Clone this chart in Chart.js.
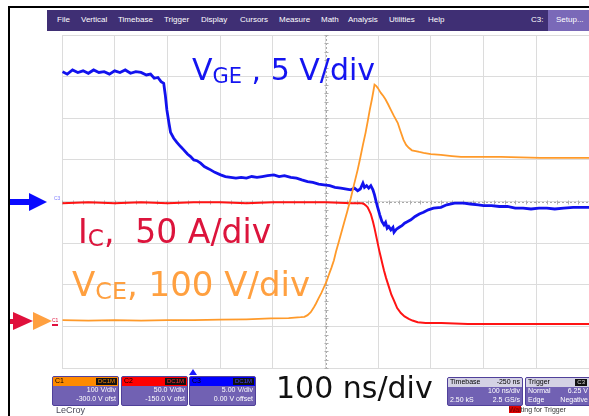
<!DOCTYPE html>
<html><head><meta charset="utf-8">
<script src="https://cdn.jsdelivr.net/npm/chart.js@4/dist/chart.umd.min.js"></script>
<style>
html,body{margin:0;padding:0;background:#fff;width:589px;height:416px;overflow:hidden;position:relative;font-family:"DejaVu Sans",sans-serif}
#c{position:absolute;left:0;top:0}
.abs{position:absolute;white-space:nowrap}
.lbl{font-size:30px;line-height:30px}
.lbl .sb{font-size:0.7em;position:relative;top:0.12em}
.menu{position:absolute;left:47px;top:10px;width:542px;height:21px;background:#3f2f74}
.mi{position:absolute;top:5px;font:8px "Liberation Sans",Arial,sans-serif;color:#fff}
.box{position:absolute;background:#7161b3;border:1px solid #50409a;border-radius:2px;overflow:hidden;font:7px/8px "Liberation Sans",Arial,sans-serif;color:#fff}
.hd{position:relative;height:9px;color:#000}
.hd .l{position:absolute;left:2px;top:0}
.hd .r{position:absolute;right:2px;top:0}
.ln{position:relative;height:9px}
.ln .l{position:absolute;left:2px}
.ln .r{position:absolute;right:2px}
.tag{position:absolute;right:1px;top:1px;height:7px;padding:0 2px;background:#111;font:6px/7px "Liberation Sans",Arial,sans-serif}
</style></head><body>
<canvas id="c" width="589" height="416"></canvas>

<!-- frame -->
<div class="abs" style="left:8px;top:6px;width:581px;height:2px;background:#000"></div>
<div class="abs" style="left:8px;top:6px;width:2px;height:410px;background:#000"></div>

<!-- menu bar -->
<div class="menu">
  <span class="mi" style="left:10px">File</span>
  <span class="mi" style="left:34px">Vertical</span>
  <span class="mi" style="left:71px">Timebase</span>
  <span class="mi" style="left:117px">Trigger</span>
  <span class="mi" style="left:154px">Display</span>
  <span class="mi" style="left:193px">Cursors</span>
  <span class="mi" style="left:232px">Measure</span>
  <span class="mi" style="left:274px">Math</span>
  <span class="mi" style="left:301px">Analysis</span>
  <span class="mi" style="left:342px">Utilities</span>
  <span class="mi" style="left:381px">Help</span>
  <span class="mi" style="left:484px">C3:</span>
  <div class="abs" style="left:501px;top:0;width:41px;height:21px;background:#7a69b8"></div>
  <span class="mi" style="left:509px">Setup...</span>
</div>

<!-- arrows -->
<svg class="abs" style="left:0;top:0" width="60" height="416">
  <rect x="10" y="199" width="21" height="6" fill="#0a0aff"/>
  <polygon points="29,193 47,202 29,211" fill="#0a0aff"/>
  <rect x="10" y="319" width="4" height="5" fill="#e0103c"/>
  <polygon points="13,312 33,321 13,330" fill="#e0103c"/>
  <polygon points="33,312 52,321 33,330" fill="#ffa040"/>
  <rect x="52" y="324" width="6" height="2" fill="#e0103c"/>
</svg>
<span class="abs" style="left:54px;top:195px;font:5px 'Liberation Sans',sans-serif;color:#8080ff">C3</span>
<span class="abs" style="left:52px;top:317px;font:5px 'Liberation Sans',sans-serif;color:#e0103c">C1</span>

<!-- trace labels -->
<div class="abs lbl" style="left:192px;top:55px;color:#1414f0">V<span class="sb">GE</span> , 5 V/div</div>
<div class="abs lbl" style="left:78px;top:215px;font-size:33px;line-height:33px;color:#dc143c">I<span class="sb">C</span>,&nbsp; 50 A/div</div>
<div class="abs lbl" style="left:72px;top:267px;font-size:34px;line-height:34px;color:#ffa040">V<span class="sb">CE</span>, 100 V/div</div>
<div class="abs lbl" style="left:276px;top:373px;color:#111">100 ns/div</div>

<!-- trigger marker -->
<svg class="abs" style="left:188px;top:369px" width="10" height="7"><polygon points="5,0 9,6 1,6" fill="#1a1aff"/></svg>

<!-- channel boxes -->
<div class="box" style="left:52px;top:376px;width:65px;height:28px">
  <div class="hd" style="background:#ff8a00"><span class="l">C1</span><span class="tag" style="color:#ff8a00">DC1M</span></div>
  <div class="ln"><span class="r">100 V/div</span></div>
  <div class="ln"><span class="r">-300.0 V ofst</span></div>
</div>
<div class="box" style="left:121px;top:376px;width:65px;height:28px">
  <div class="hd" style="background:#ff0000"><span class="l">C2</span><span class="tag" style="color:#ff3030">DC1M</span></div>
  <div class="ln"><span class="r">50.0 V/div</span></div>
  <div class="ln"><span class="r">-150.0 V ofst</span></div>
</div>
<div class="box" style="left:189px;top:376px;width:65px;height:28px">
  <div class="hd" style="background:#0000ff"><span class="l">C3</span><span class="tag" style="color:#4040ff">DC1M</span></div>
  <div class="ln"><span class="r">5.00 V/div</span></div>
  <div class="ln"><span class="r">0.00 V offset</span></div>
</div>
<span class="abs" style="left:56px;top:405px;font:9px 'Liberation Sans',Arial,sans-serif;color:#4a4a5a">LeCroy</span>

<div class="box" style="left:447px;top:377px;width:74px;height:27px">
  <div class="hd" style="background:#d4d2e4"><span class="l">Timebase</span><span class="r">-250 ns</span></div>
  <div class="ln"><span class="r">100 ns/div</span></div>
  <div class="ln"><span class="l">2.50 kS</span><span class="r">2.5 GS/s</span></div>
</div>
<div class="box" style="left:525px;top:377px;width:66px;height:27px">
  <div class="hd" style="background:#d4d2e4"><span class="l">Trigger</span><span class="tag" style="right:5px;color:#ddd">C3</span></div>
  <div class="ln"><span class="l">Normal</span><span class="r" style="right:4px">6.25 V</span></div>
  <div class="ln"><span class="l">Edge</span><span class="r" style="right:4px">Negative</span></div>
</div>
<span class="abs" style="left:509px;top:406px;font:7px 'Liberation Sans',Arial,sans-serif;color:#333"><span style="background:#e00000;color:#600">Wai</span>ting for Trigger</span>

<script>
// time axis in ns (100 ns/div), trigger at t = 0
const timeTicks = { min: -250, max: 750, step: 100 };
// C3: VGE in volts (5 V/div, 0 V offset)
const vgeTime = [-249,-240,-230,-220,-210,-200,-190,-180,-170,-160,-150,-140,-130,-120,-110,-100,-90,-82,-75,-68,-62,-57,-54,-51,-47,-44,-38,-32,-25,-19,-12,-6,0,6,13,20,26,32,40,51,60,70,80,90,100,110,120,130,140,152,162,172,184,195,205,216,226,237,247,258,268,279,290,298,305,311,316,321,324,328,332,336,340,343,346,349,353,357,361,364,367,370,374,378,380,385,390,395,400,406,412,420,428,436,445,455,469,480,495,512,525,540,550,565,580,595,610,625,640,655,670,685,702,720,735,751];
const vgeVolts = [15.6,15.3,15.8,15.5,15.7,15.4,15.8,15.5,15.6,15.3,15.7,15.5,15.8,15.4,15.6,15.5,15.2,15.3,14.8,14.9,14.4,14.2,12.8,11.0,9.4,8.3,7.6,7.1,6.6,6.2,5.7,5.4,5.0,4.9,4.6,4.2,4.0,3.8,3.5,3.2,3.0,2.9,2.8,2.9,2.8,3.0,2.9,3.0,3.1,3.2,3.0,3.1,2.9,2.8,2.6,2.4,2.3,2.1,2.0,1.9,1.7,1.6,1.5,1.4,1.6,1.3,1.5,2.2,1.7,1.9,1.6,1.9,1.4,0.8,0.0,-0.7,-1.6,-2.4,-2.8,-2.5,-3.2,-3.0,-3.4,-3.1,-3.7,-3.3,-3.1,-2.9,-2.6,-2.4,-2.2,-1.8,-1.5,-1.3,-1.0,-0.8,-0.7,-0.4,-0.2,-0.2,-0.3,-0.4,-0.5,-0.5,-0.6,-0.6,-0.8,-0.8,-0.9,-0.8,-0.8,-0.9,-0.8,-0.7,-0.7,-0.7];
// C2: IC in amps (50 A/div, -150 offset)
const icTime = [-249,-200,-150,-100,-50,0,50,100,150,200,250,300,318,323,327,330,333,336,340,343,346,349,352,355,358,361,365,370,375,380,386,393,400,408,415,425,440,470,520,580,640,700,751];
const icAmps = [148,149,148,149,148,149,149,148,149,149,149,148,148,147,145,143,139,135,126,118,109,100,91,83,75,67,58,48,38,31,22,16,12,9,7,5,4,4,3,3,3,3,3];
// C1: VCE in volts (100 V/div, -300 V offset)
const vceTime = [-249,-200,-150,-100,-50,0,50,100,146,180,203,210,216,222,228,232,237,242,247,252,256,261,266,270,275,280,285,291,298,304,311,316,321,326,330,334,338,341,343,346,349,352,355,360,364,369,374,380,387,392,398,403,408,414,421,428,436,450,469,490,507,540,583,620,658,700,751];
const vceVolts = [15,14,15,14,15,15,16,17,19,20,22,23,27,34,46,55,68,80,94,108,123,140,159,180,202,225,248,275,308,340,376,405,436,465,492,520,545,566,581,578,573,567,561,553,545,533,520,505,489,470,448,436,429,423,421,419,417,414,412,409,407,407,407,406,405,405,405];
const vgeRange = [-20, 20, 5];
const icRange = [-50, 350];
const vceRange = [-100, 700];

const pts = (xs, ys) => xs.map((x, i) => ({x, y: ys[i]}));

const centerLines = {
  id: 'centerLines',
  beforeDatasetsDraw(chart) {
    const {ctx, chartArea: a, scales: {x, y}} = chart;
    const cx = Math.round(x.getPixelForValue((timeTicks.min + timeTicks.max) / 2)) + 0.5;
    const cy = Math.round(y.getPixelForValue(0)) + 0.5;
    ctx.save();
    ctx.strokeStyle = '#a8a8a8';
    ctx.lineWidth = 1;
    ctx.setLineDash([2, 2]);
    ctx.beginPath();
    ctx.moveTo(cx, a.top); ctx.lineTo(cx, a.bottom);
    ctx.moveTo(a.left, cy); ctx.lineTo(a.right, cy);
    ctx.stroke();
    ctx.setLineDash([]);
    ctx.strokeStyle = '#b0b0b0';
    ctx.beginPath();
    for (let t = timeTicks.min; t <= timeTicks.max; t += timeTicks.step / 5) {
      const px = Math.round(x.getPixelForValue(t)) + 0.5;
      ctx.moveTo(px, cy - 2); ctx.lineTo(px, cy + 2);
    }
    for (let v = vgeRange[0]; v <= vgeRange[1]; v += vgeRange[2] / 5) {
      const py = Math.round(y.getPixelForValue(v)) + 0.5;
      ctx.moveTo(cx - 2, py); ctx.lineTo(cx + 2, py);
    }
    ctx.stroke();
    ctx.restore();
  }
};

const gridOpts = {color: '#dcdcdc', lineWidth: 1, drawTicks: false};

new Chart(document.getElementById('c'), {
  type: 'line',
  data: {datasets: [
    {label: 'VCE', data: pts(vceTime, vceVolts), yAxisID: 'yV', borderColor: '#ff9a2a', borderWidth: 1.8, pointRadius: 0, tension: 0},
    {label: 'IC', data: pts(icTime, icAmps), yAxisID: 'yI', borderColor: '#ff1414', borderWidth: 2, pointRadius: 0, tension: 0},
    {label: 'VGE', data: pts(vgeTime, vgeVolts), yAxisID: 'y', borderColor: '#1212ee', borderWidth: 2.8, pointRadius: 0, tension: 0}
  ]},
  options: {
    responsive: false, animation: false, events: [],
    layout: {padding: {left: 62, top: 35, right: 0, bottom: 48}},
    plugins: {legend: {display: false}, tooltip: {enabled: false}},
    scales: {
      x: {type: 'linear', min: timeTicks.min, max: timeTicks.max,
          ticks: {stepSize: timeTicks.step, display: false}, grid: gridOpts, border: {display: false},
          afterFit(s) { s.height = 0; }},
      y: {type: 'linear', min: vgeRange[0], max: vgeRange[1],
          ticks: {stepSize: vgeRange[2], display: false}, grid: gridOpts, border: {display: false},
          afterFit(s) { s.width = 0; }},
      yI: {type: 'linear', display: false, min: icRange[0], max: icRange[1]},
      yV: {type: 'linear', display: false, min: vceRange[0], max: vceRange[1]}
    }
  },
  plugins: [centerLines]
});
</script>
</body></html>
